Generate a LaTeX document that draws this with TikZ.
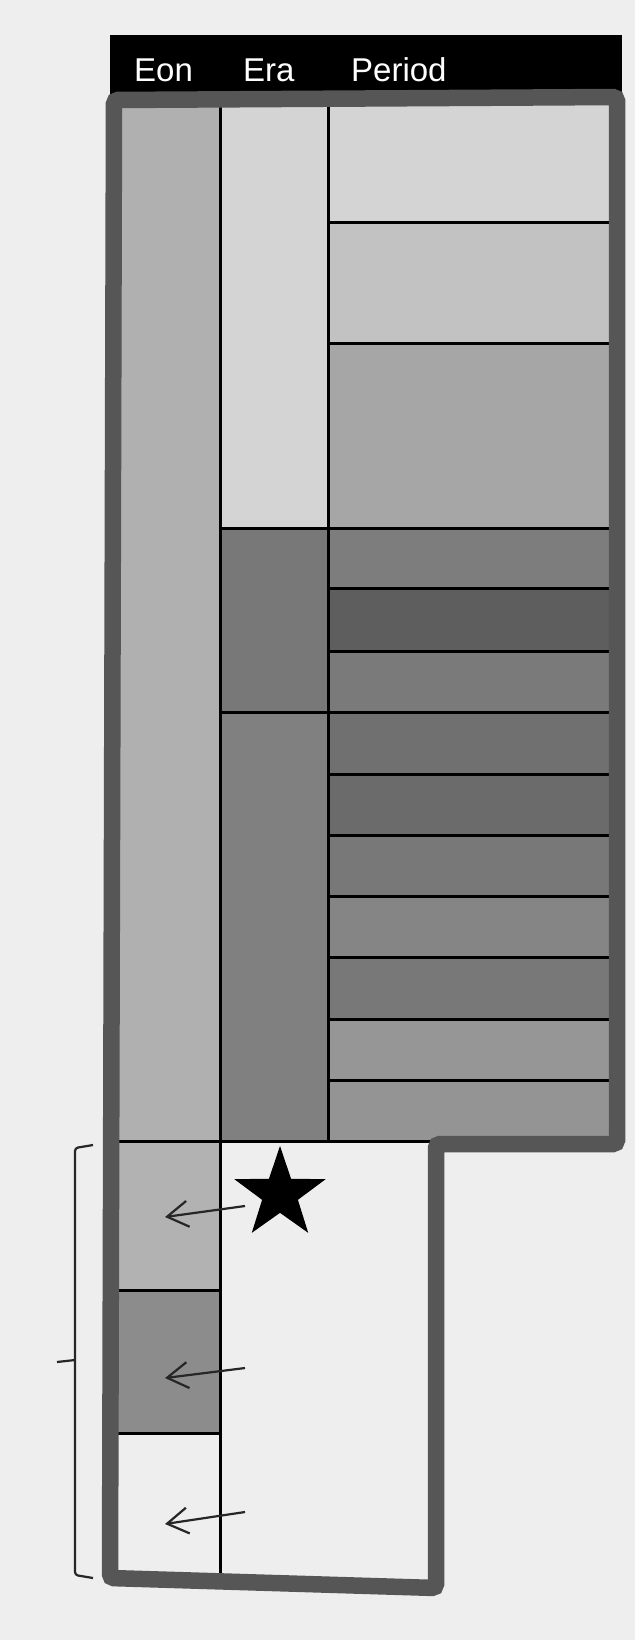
\documentclass[tikz,border=0pt]{standalone}
\usepackage{fontspec}
\setsansfont{Liberation Sans}
\usetikzlibrary{positioning,shapes.geometric,arrows.meta}
\definecolor{bg}{HTML}{EEEEEE}
\definecolor{rimgray}{HTML}{565656}
\tikzset{
    cell/.style =    {rectangle,
                     draw=black,
                     line width=3pt,
                     inner sep=0pt,
                     outer sep=0pt,
                     anchor=north west},
    eoncell/.style = {cell,
                     minimum width=107pt},
    eracell/.style = {cell,
                     minimum width=108pt},
    percell/.style = {cell,
                     minimum width=289pt},
    headbar/.style = {rectangle,
                     fill=black,
                     inner sep=0pt,
                     anchor=north west,
                     minimum width=512pt,
                     minimum height=62pt},
    headtext/.style = {text=white,
                     inner sep=0pt,
                     anchor=base west,
                     font=\sffamily\fontsize{33}{33}\selectfont},
    rim/.style =     {draw=rimgray,
                     line width=16.5pt,
                     rounded corners=4pt},
    pointer/.style = {-{Straight Barb[length=21pt,width=26pt]},
                     line width=2.2pt,
                     draw=black!85},
    bracket/.style = {draw=black!85,
                     line width=2.2pt,
                     rounded corners=3pt},
    -,
    >=stealth}

\begin{document}
\begin{tikzpicture}[x=1pt,y=-1pt]
    \useasboundingbox[fill=bg] (0,0) rectangle (635,1640);
    \node[headbar] (bar) at (110,35) {};
    % eon column
    \node[eoncell, fill=black!31, minimum height=1044pt] (eon)  at (113,97) {};
    \node[eoncell, fill=black!30, minimum height=149pt]  (eonA) [below=0pt of eon]  {};
    \node[eoncell, fill=black!45, minimum height=143pt]  (eonB) [below=0pt of eonA] {};
    \node[eoncell, fill=bg,       minimum height=147pt]  (eonC) [below=0pt of eonB] {};
    % era column
    \node[eracell, fill=black!17, minimum height=431pt] (eraA) at (220,97) {};
    \node[eracell, fill=black!53, minimum height=184pt] (eraB) [below=0pt of eraA] {};
    \node[eracell, fill=black!50, minimum height=429pt] (eraC) [below=0pt of eraB] {};
    \node[cell, fill=bg, minimum width=216pt, minimum height=445pt] (blank) [below=0pt of eraC.south west, anchor=north west] {};
    % period column
    \node[percell, fill=black!17, minimum height=125pt] (perA) at (328,97) {};
    \node[percell, fill=black!24, minimum height=121pt] (perB) [below=0pt of perA] {};
    \node[percell, fill=black!35, minimum height=185pt] (perC) [below=0pt of perB] {};
    \node[percell, fill=black!51, minimum height=60pt]  (perD) [below=0pt of perC] {};
    \node[percell, fill=black!63, minimum height=63pt]  (perE) [below=0pt of perD] {};
    \node[percell, fill=black!52, minimum height=61pt]  (perF) [below=0pt of perE] {};
    \node[percell, fill=black!56, minimum height=62pt]  (perG) [below=0pt of perF] {};
    \node[percell, fill=black!58, minimum height=61pt]  (perH) [below=0pt of perG] {};
    \node[percell, fill=black!53, minimum height=61pt]  (perI) [below=0pt of perH] {};
    \node[percell, fill=black!48, minimum height=61pt]  (perJ) [below=0pt of perI] {};
    \node[percell, fill=black!53, minimum height=62pt]  (perK) [below=0pt of perJ] {};
    \node[percell, fill=black!41, minimum height=61pt]  (perL) [below=0pt of perK] {};
    \node[percell, fill=black!42, minimum height=61pt]  (perM) [below=0pt of perL] {};
    % outline
    \draw[rim] (114,100) -- (617,97) -- (617,1144) -- (436,1144)
               -- (436,1588) -- (110,1578) -- cycle;
    % header
    \node[headtext] (eonlab) at (134,82) {Eon};
    \node[headtext] (eralab) at (243,82) {Era};
    \node[headtext] (perlab) at (351,82) {Period};
    % star and pointers
    \node[star, star points=5, star point ratio=2.55, fill=black,
          minimum size=96pt, inner sep=0pt] (mark) at (280,1194) {};
    \coordinate (tA) at (245,1206);
    \coordinate (hA) at (165,1217);
    \coordinate (tB) at (245,1368);
    \coordinate (hB) at (165,1378);
    \coordinate (tC) at (245,1512);
    \coordinate (hC) at (165,1524);
    \draw[pointer] (tA) -- (hA);
    \draw[pointer] (tB) -- (hB);
    \draw[pointer] (tC) -- (hC);
    % bracket
    \draw[bracket] (93,1145) -- (75,1148) -- (75,1575) -- (93,1578);
    \draw[bracket] (75,1360) -- (57,1362);
\end{tikzpicture}
\end{document}
